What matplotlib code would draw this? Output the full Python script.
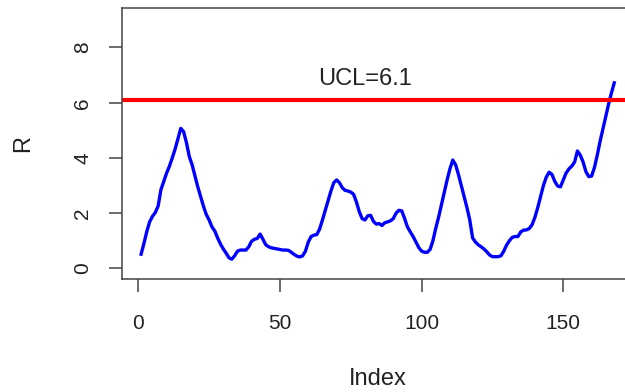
import numpy as np
import matplotlib.pyplot as plt

plt.rcParams['font.family'] = ['Liberation Sans', 'DejaVu Sans']

# moving range values, index 1..168
r_values = [
    0.51, 0.90, 1.33, 1.68, 1.88, 2.02, 2.25, 2.85, 3.15, 3.45,
    3.70, 4.00, 4.32, 4.70, 5.07, 4.95, 4.55, 4.05, 3.75, 3.35,
    2.95, 2.60, 2.25, 1.95, 1.75, 1.50, 1.35, 1.10, 0.88, 0.70,
    0.55, 0.38, 0.33, 0.45, 0.62, 0.66, 0.66, 0.66, 0.78, 0.98,
    1.05, 1.08, 1.24, 1.05, 0.85, 0.78, 0.74, 0.72, 0.70, 0.68,
    0.66, 0.66, 0.65, 0.58, 0.50, 0.44, 0.41, 0.45, 0.62, 0.95,
    1.15, 1.20, 1.22, 1.42, 1.75, 2.10, 2.45, 2.80, 3.10, 3.20,
    3.10, 2.92, 2.82, 2.80, 2.76, 2.68, 2.40, 2.05, 1.80, 1.75,
    1.90, 1.92, 1.70, 1.60, 1.62, 1.55, 1.65, 1.68, 1.72, 1.80,
    2.00, 2.10, 2.08, 1.80, 1.50, 1.32, 1.15, 0.95, 0.75, 0.62,
    0.58, 0.58, 0.68, 1.00, 1.45, 1.85, 2.30, 2.75, 3.20, 3.60,
    3.92, 3.75, 3.40, 3.00, 2.60, 2.20, 1.75, 1.10, 0.95, 0.85,
    0.78, 0.70, 0.60, 0.48, 0.42, 0.42, 0.42, 0.45, 0.62, 0.84,
    1.00, 1.12, 1.15, 1.15, 1.32, 1.38, 1.39, 1.44, 1.58, 1.85,
    2.20, 2.60, 3.00, 3.30, 3.48, 3.40, 3.15, 2.98, 2.95, 3.20,
    3.45, 3.60, 3.70, 3.85, 4.25, 4.10, 3.85, 3.50, 3.32, 3.34,
    3.65, 4.10, 4.60, 5.05, 5.50, 5.95, 6.35, 6.72,
]
index = np.arange(1, len(r_values) + 1)
ucl = 6.1
x_ticks = [0, 50, 100, 150]
y_ticks = [0, 2, 4, 6, 8]

fig = plt.figure(figsize=(6.25, 3.92), dpi=100)
ax = fig.add_axes([0.1955, 0.2875, 0.8176, 0.6913])

ax.plot(index, r_values, color="#0000ff", lw=2.4, solid_joinstyle="round")
ax.axhline(ucl, color="#ff0000", lw=3)
ax.text(80, 6.86, f"UCL={ucl}", ha="center", va="center",
        fontsize=17, color="#222222")

ax.set_xlim(-5.68, 174.68)
ax.set_ylim(-0.4, 9.42)
ax.set_xticks(x_ticks)
ax.set_yticks(y_ticks)
ax.set_yticklabels([str(v) for v in y_ticks], rotation=90, va="center")

ax.tick_params(length=9.5, width=1.1, color="#444444", labelsize=15,
               labelcolor="#222222", pad=12)
ax.tick_params(axis="x", pad=15.5)
for s in ax.spines.values():
    s.set_color("#444444")
    s.set_linewidth(1.1)

ax.set_xlabel("Index", fontsize=17, color="#222222", labelpad=25.5)
ax.set_ylabel("R", fontsize=17, color="#222222", labelpad=28)

fig.savefig("out.png", dpi=100)
